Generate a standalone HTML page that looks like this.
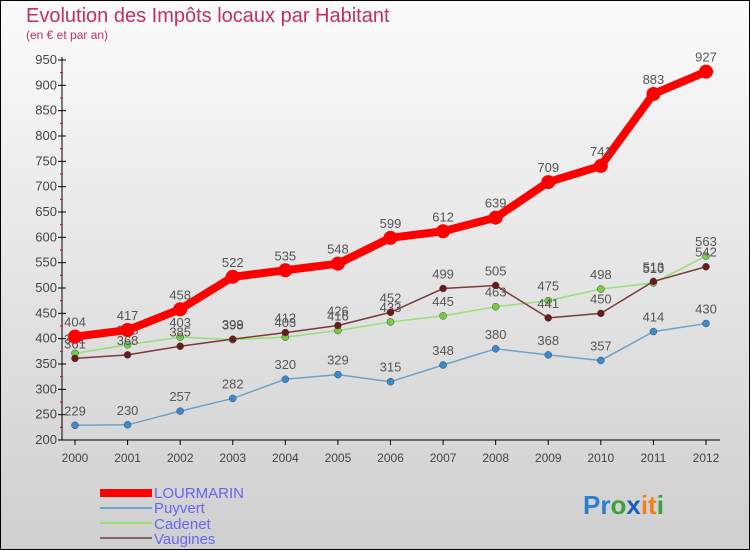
<!DOCTYPE html>
<html><head><meta charset="utf-8"><style>
body{margin:0}
svg{display:block;font-family:"Liberation Sans",sans-serif}
</style></head><body>
<svg id="c" width="750" height="550" viewBox="0 0 750 550">
<defs><linearGradient id="bg" x1="0" y1="0" x2="0" y2="1"><stop offset="0" stop-color="#fbfbfb"/><stop offset="1" stop-color="#cfcfcf"/></linearGradient></defs>
<rect x="0.5" y="0.5" width="749" height="549" fill="url(#bg)" stroke="#000"/>
<text x="26" y="22" font-size="20" fill="#c0305a">Evolution des Impôts locaux par Habitant</text>
<text x="26" y="39" font-size="12" fill="#c0305a">(en € et par an)</text>
<g id="axes"></g><g id="series"></g>
<g>
<rect x="100" y="489" width="52" height="8" fill="#f00"/>
<text x="154" y="498" font-size="15" fill="#6666ee">LOURMARIN</text>
<rect x="100" y="507" width="52" height="2" fill="#6fa2c8"/>
<text x="154" y="513" font-size="15" fill="#6666ee">Puyvert</text>
<rect x="100" y="522" width="52" height="2" fill="#99dd77"/>
<text x="154" y="529" font-size="15" fill="#6666ee">Cadenet</text>
<rect x="100" y="537" width="52" height="2" fill="#8a6060"/>
<text x="154" y="544" font-size="15" fill="#6666ee">Vaugines</text>
</g>
<text x="583" y="514" font-size="26" font-weight="bold"><tspan fill="#2a7fd0">Pr</tspan><tspan fill="#3aa040">o</tspan><tspan fill="#1a5fc0">x</tspan><tspan fill="#f08020">it</tspan><tspan fill="#3aa040">i</tspan></text>
</svg>
<script>
const years=[2000,2001,2002,2003,2004,2005,2006,2007,2008,2009,2010,2011,2012];
const yTicks=[200,250,300,350,400,450,500,550,600,650,700,750,800,850,900,950];
const lourmarin=[404,417,458,522,535,548,599,612,639,709,741,883,927];
const puyvert=[229,230,257,282,320,329,315,348,380,368,357,414,430];
const cadenet=[371,388,403,398,403,416,433,445,463,475,498,510,563];
const vaugines=[361,368,385,399,412,426,452,499,505,441,450,513,542];
const NS="http://www.w3.org/2000/svg";
function X(i){return 75+i*(706-75)/12;}
function Y(v){return 440-(v-200)*(380/750);}
function mk(t,a,p){const e=document.createElementNS(NS,t);for(const k in a)e.setAttribute(k,a[k]);p.appendChild(e);return e;}
const ax=document.getElementById('axes');
const yl=mk('line',{x1:62,y1:57,x2:62,y2:440,stroke:'#000'},ax);


const xl=mk('line',{x1:62,y1:440,x2:720,y2:440,stroke:'#000'},ax);


yTicks.forEach(v=>{
 mk('line',{x1:58,x2:66,y1:Y(v),y2:Y(v),stroke:'#000'},ax);
 if(v<950)mk('line',{x1:60,x2:63,y1:Y(v+25),y2:Y(v+25),stroke:'#e00'},ax);
 const t=mk('text',{x:57,y:Y(v)+4,'font-size':13,fill:'#444','text-anchor':'end'},ax);t.textContent=v;
 
 
});
years.forEach((y,i)=>{
 mk('line',{x1:X(i),x2:X(i),y1:440,y2:445,stroke:'#000'},ax);
 const t=mk('text',{x:X(i),y:462,'font-size':12,fill:'#444','text-anchor':'middle'},ax);t.textContent=y;
 
 
});
const sg=document.getElementById('series');
function series(name,data,color,w,r,dot){
 const g=mk('g',{},sg);
 
 
 mk('polyline',{points:data.map((v,i)=>X(i)+','+Y(v)).join(' '),fill:'none',stroke:color,'stroke-width':w,'stroke-linejoin':'round'},g);
 data.forEach((v,i)=>{
  const c=mk('circle',{cx:X(i),cy:Y(v),r:r,fill:dot,stroke:w>3?'none':'#444','stroke-width':0.5},g);
  
  
  const t=mk('text',{x:X(i),y:Y(v)-10,'font-size':13,fill:'#555','text-anchor':'middle'},g);t.textContent=v;
  
  
 });
}
series('puyvert',puyvert,'#6fa2c8',1.5,3.5,'#3a8ad0');
series('cadenet',cadenet,'#99dd77',1.5,3.5,'#77cc44');
series('vaugines',vaugines,'#7a3a3a',1.5,3.5,'#6a1a1a');
series('lourmarin',lourmarin,'#f00',8,7,'#f00');
</script>
</body></html>
